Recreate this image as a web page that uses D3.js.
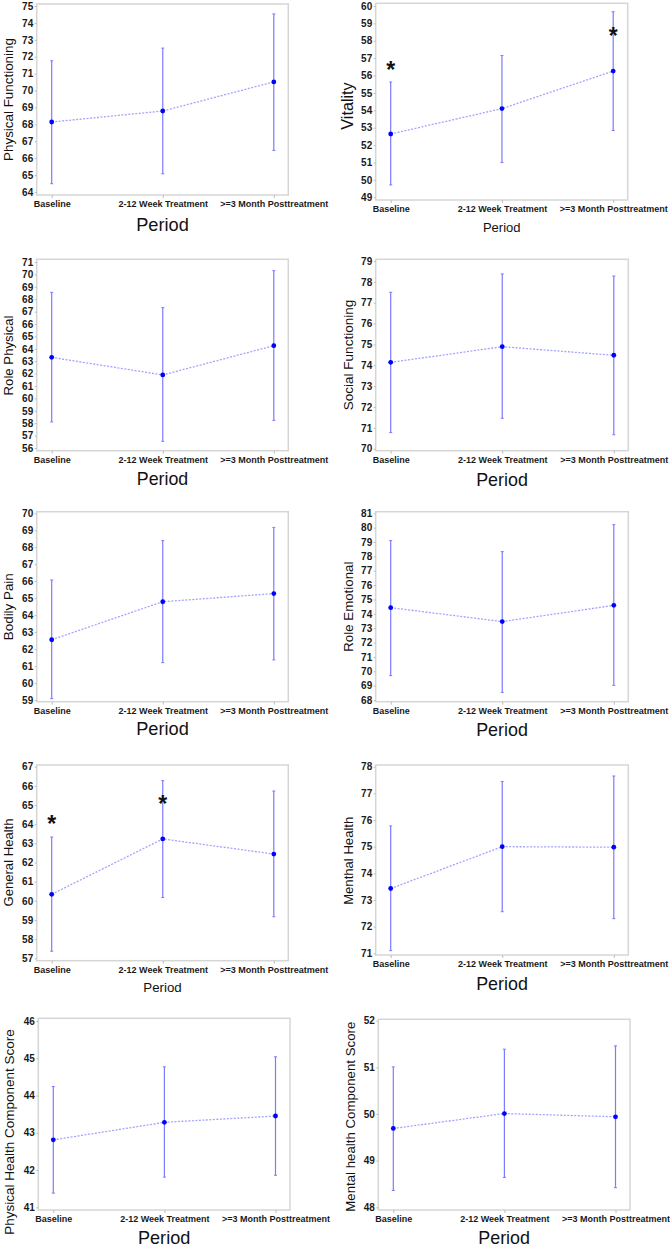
<!DOCTYPE html>
<html>
<head>
<meta charset="utf-8">
<script src="https://cdn.jsdelivr.net/npm/d3@7"></script>
<style>
  html, body { margin: 0; padding: 0; background: #fff; }
  svg { display: block; font-family: Arial, "Liberation Sans", sans-serif; }
</style>
</head>
<body>
<svg id="chart" width="670" height="1248"></svg>
<script>
// ---------------- DATA ----------------
const periods = ["Baseline", "2-12 Week Treatment", ">=3 Month Posttreatment"];
const xTitle = "Period";
const measures = [
  "Physical Functioning", "Vitality",
  "Role Physical", "Social Functioning",
  "Bodily Pain", "Role Emotional",
  "General Health", "Menthal Health",
  "Physical Health Component Score", "Mental health Component Score"
];
const means = [
  [68.14, 68.79, 70.51], [52.64, 54.10, 56.26],
  [63.31, 61.89, 64.25], [74.14, 74.89, 74.48],
  [62.55, 64.79, 65.27], [74.43, 73.46, 74.59],
  [60.34, 63.23, 62.44], [73.43, 75.00, 74.98],
  [42.81, 43.28, 43.45], [49.69, 50.01, 49.94]
];
const lowers = [
  [64.49, 65.08, 66.46], [49.71, 51.00, 52.84],
  [58.10, 56.54, 58.23], [70.77, 71.46, 70.67],
  [59.08, 61.20, 61.36], [69.70, 68.53, 69.02],
  [57.37, 60.17, 59.17], [71.10, 72.56, 72.30],
  [41.38, 41.81, 41.86], [48.36, 48.64, 48.42]
];
const uppers = [
  [71.76, 72.51, 74.53], [55.63, 57.15, 59.67],
  [68.55, 67.32, 70.30], [77.50, 78.38, 78.28],
  [66.07, 68.39, 69.17], [79.10, 78.33, 80.21],
  [63.33, 66.27, 65.73], [75.78, 77.44, 77.65],
  [44.24, 44.77, 45.04], [51.01, 51.39, 51.46]
];
// y tick label range (min, max), integer steps
const tickMin = [64, 49, 56, 70, 59, 68, 57, 71, 41, 48];
const tickMax = [75, 60, 71, 79, 70, 81, 67, 78, 46, 52];
// significance asterisks: value at which marker is shown (null = none)
const stars = [
  [null, null, null], [56.6, null, 58.58],
  [null, null, null], [null, null, null],
  [null, null, null], [null, null, null],
  [64.25, 65.3, null], [null, null, null],
  [null, null, null], [null, null, null]
];

// ---------------- LAYOUT ----------------
// frame: L,R,T,B ; pixel of min tick / max tick ; y title x, center y, font ; period baseline, font
const layout = [
  {L:36.7, R:288.3, T:4,     B:195,   y0:192,   y1:6,     tx:8.5,  ty:99.5,  tf:13.4, py:231,  pf:18.2},
  {L:375.7,R:627.7, T:3.3,   B:200,   y0:197.3, y1:6,     tx:347.7,ty:106,   tf:16.2, py:231.7,pf:13},
  {L:36.7, R:288.3, T:259.3, B:450.7, y0:448,   y1:262,   tx:8.3,  ty:355.5, tf:13.2, py:485,  pf:17.8},
  {L:375.7,R:628.3, T:259.3, B:450.7, y0:448.7, y1:261,   tx:348.7,ty:355,   tf:13.5, py:486,  pf:17.9},
  {L:36.7, R:288.3, T:511.7, B:701.7, y0:700,   y1:513.3, tx:8,    ty:606.7, tf:13.4, py:735,  pf:18.2},
  {L:375.7,R:628.3, T:511.7, B:701.7, y0:700,   y1:513.3, tx:348.7,ty:606.7, tf:13.3, py:736,  pf:17.9},
  {L:36.7, R:288.3, T:765,   B:960.7, y0:958.3, y1:766.7, tx:8.7,  ty:862.5, tf:13.1, py:992,  pf:13.3},
  {L:375.7,R:628.3, T:765,   B:955,   y0:953.3, y1:766.7, tx:348.3,ty:860.8, tf:13.1, py:990,  pf:17.9},
  {L:38.3, R:290,   T:1018.3,B:1210,  y0:1207.3,y1:1021,  tx:9.2,  ty:1132,  tf:13.5, py:1243.5, pf:18.1},
  {L:378.3,R:630,   T:1019.3,B:1210,  y0:1207.3,y1:1020.7,tx:350.7,ty:1116.7,tf:13.25,py:1243.5, pf:17.9}
];

const svg = d3.select("#chart");
const barColor = "#7b7bff";
const lineColor = "#a3a3ff";
const dotColor = "#0000ff";

measures.forEach((name, i) => {
  const lay = layout[i];
  const g = svg.append("g");
  const x = d3.scalePoint().domain(periods).range([lay.L + 15, lay.R - 14.5]);
  const y = d3.scaleLinear().domain([tickMin[i], tickMax[i]]).range([lay.y0, lay.y1]);

  // frame
  g.append("rect")
    .attr("x", lay.L).attr("y", lay.T)
    .attr("width", lay.R - lay.L).attr("height", lay.B - lay.T)
    .attr("fill", "none").attr("stroke", "#d6d6d6").attr("stroke-width", 1.5);

  // y axis
  const yAxis = d3.axisLeft(y)
    .tickValues(d3.range(tickMin[i], tickMax[i] + 1))
    .tickFormat(d3.format("d"))
    .tickSize(2).tickPadding(1.5);
  const ya = g.append("g").attr("transform", `translate(${lay.L},0)`).call(yAxis);
  ya.select(".domain").remove();
  ya.selectAll(".tick line").attr("stroke", "#bdbdbd");
  ya.selectAll(".tick text")
    .attr("font-family", "Arial, 'Liberation Sans', sans-serif")
    .attr("font-size", 10).attr("font-weight", "bold").attr("fill", "#1a1a1a");

  // x axis
  const xAxis = d3.axisBottom(x).tickSize(3).tickPadding(2);
  const xa = g.append("g").attr("transform", `translate(0,${lay.B})`).call(xAxis);
  xa.select(".domain").remove();
  xa.selectAll(".tick line").attr("stroke", "#bdbdbd");
  xa.selectAll(".tick text")
    .attr("y", 12).attr("dy", 0)
    .attr("font-family", "Arial, 'Liberation Sans', sans-serif")
    .attr("font-size", 9).attr("font-weight", "bold").attr("fill", "#1a1a1a");

  // y title
  g.append("text")
    .attr("transform", `translate(${lay.tx},${lay.ty}) rotate(-90)`)
    .attr("text-anchor", "middle").attr("dy", "0.35em")
    .attr("font-size", lay.tf).attr("fill", "#111")
    .text(name);

  // x title
  g.append("text")
    .attr("x", (lay.L + lay.R) / 2).attr("y", lay.py)
    .attr("text-anchor", "middle")
    .attr("font-size", lay.pf).attr("fill", "#111")
    .text(xTitle);

  const rows = periods.map((p, j) => ({p, m: means[i][j], lo: lowers[i][j], hi: uppers[i][j], s: stars[i][j]}));

  // error bars
  g.selectAll(".eb").data(rows).enter().append("line")
    .attr("x1", d => x(d.p)).attr("x2", d => x(d.p))
    .attr("y1", d => y(d.lo)).attr("y2", d => y(d.hi))
    .attr("stroke", barColor).attr("stroke-width", 1.2);
  ["lo", "hi"].forEach(k => {
    g.selectAll(".cap" + k).data(rows).enter().append("line")
      .attr("x1", d => x(d.p) - 1.5).attr("x2", d => x(d.p) + 1.5)
      .attr("y1", d => y(d[k])).attr("y2", d => y(d[k]))
      .attr("stroke", barColor).attr("stroke-width", 1);
  });

  // connecting dashed line
  g.append("path").datum(rows)
    .attr("d", d3.line().x(d => x(d.p)).y(d => y(d.m)))
    .attr("fill", "none").attr("stroke", lineColor)
    .attr("stroke-width", 1.3).attr("stroke-dasharray", "2,1.5");

  // mean markers
  g.selectAll(".dot").data(rows).enter().append("circle")
    .attr("cx", d => x(d.p)).attr("cy", d => y(d.m)).attr("r", 2.4)
    .attr("fill", dotColor);

  // asterisks
  g.selectAll(".star").data(rows.filter(d => d.s !== null)).enter().append("text")
    .attr("x", d => x(d.p)).attr("y", d => y(d.s))
    .attr("dy", 13)
    .attr("text-anchor", "middle")
    .attr("font-size", 23).attr("font-weight", "bold").attr("fill", "#111")
    .text("*");
});
</script>
</body>
</html>
